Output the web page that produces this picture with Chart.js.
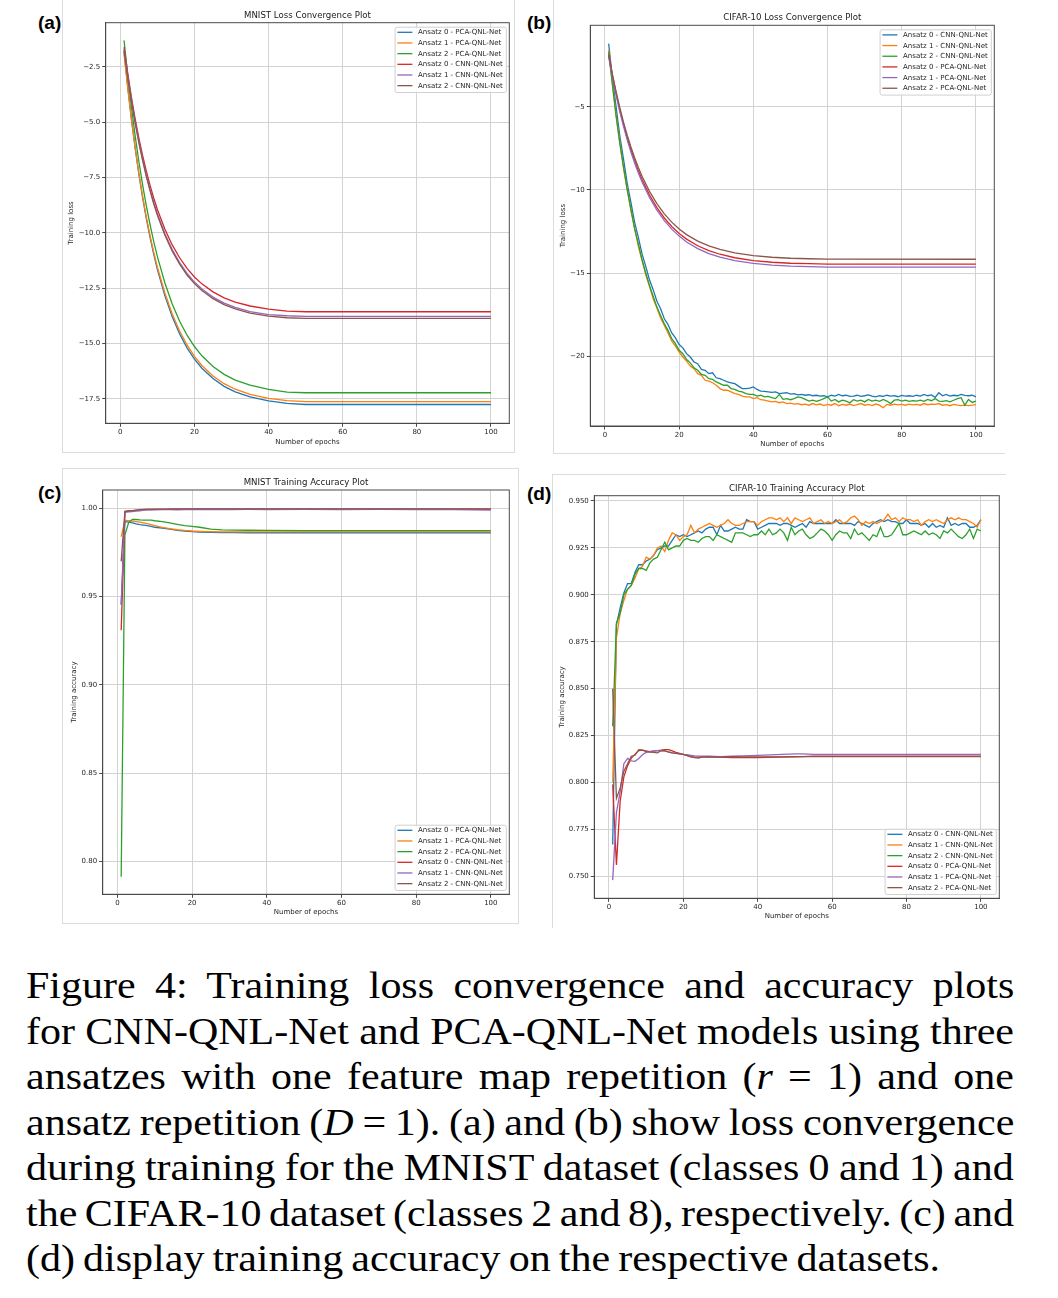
<!DOCTYPE html>
<html>
<head>
<meta charset="utf-8">
<script src="https://cdn.jsdelivr.net/npm/chart.js@4.4.0/dist/chart.umd.min.js"></script>
<style>
  html,body{margin:0;padding:0;background:#fff;}
  body{width:1058px;height:1298px;position:relative;overflow:hidden;}
  .frame{position:absolute;box-sizing:border-box;border:0 solid #dcdcdc;}
  canvas{position:absolute;}
  .lab{position:absolute;font-family:'Liberation Sans',Arial,sans-serif;font-weight:bold;font-size:19px;line-height:19px;color:#000;}
  #cap{position:absolute;left:26px;top:963.45px;transform:scaleX(1.105);transform-origin:0 0;
       font-family:'Liberation Serif','Times New Roman',serif;font-size:38px;line-height:45.45px;color:#000;}
  #cap div{white-space:nowrap;height:45.45px;}
</style>
</head>
<body>
<div class="frame" style="left:62px;top:-1px;width:453px;height:454px;border-left-width:1px;border-right-width:1px;border-bottom-width:1px;"></div>
<div class="frame" style="left:553px;top:-1px;width:452px;height:455px;border-left-width:1px;border-bottom-width:1px;"></div>
<div class="frame" style="left:62px;top:468px;width:457px;height:456px;border-width:1px;"></div>
<div class="frame" style="left:552px;top:474px;width:454px;height:454px;border-left-width:1px;border-top-width:1px;"></div>

<canvas id="cA"></canvas>
<canvas id="cB"></canvas>
<canvas id="cC"></canvas>
<canvas id="cD"></canvas>

<div class="lab" style="left:38px;top:12.9px;">(a)</div>
<div class="lab" style="left:527px;top:12.9px;">(b)</div>
<div class="lab" style="left:38px;top:483.2px;">(c)</div>
<div class="lab" style="left:527px;top:484.2px;">(d)</div>

<div id="cap">
  <div><span class="j">Figure 4: Training loss convergence and accuracy plots</span></div>
  <div><span class="j">for CNN-QNL-Net and PCA-QNL-Net models using three</span></div>
  <div><span class="j">ansatzes with one feature map repetition (<i>r</i> = 1) and one</span></div>
  <div><span class="j">ansatz repetition (<i>D</i> = 1). (a) and (b) show loss convergence</span></div>
  <div><span class="j">during training for the MNIST dataset (classes 0 and 1) and</span></div>
  <div><span class="j">the CIFAR-10 dataset (classes 2 and 8), respectively. (c) and</span></div>
  <div><span class="last">(d) display training accuracy on the respective datasets.</span></div>
</div>

<script>
// ---------------- DATA ----------------
const xTicks = [0, 20, 40, 60, 80, 100];

// (a) MNIST loss
const epochsA = [1,2,3,4,5,6,7,8,9,10,12,14,16,18,20,22,25,28,31,35,40,45,50,100];
const lossA_pca0 = [-1.8,-3.41,-4.86,-6.16,-7.34,-8.39,-9.34,-10.19,-10.96,-11.66,-12.83,-13.79,-14.56,-15.19,-15.70,-16.11,-16.58,-16.93,-17.18,-17.41,-17.59,-17.70,-17.75,-17.75];
const lossA_pca1 = [-1.9,-3.45,-4.88,-6.15,-7.31,-8.34,-9.27,-10.11,-10.87,-11.55,-12.70,-13.66,-14.43,-15.06,-15.58,-15.99,-16.46,-16.81,-17.06,-17.29,-17.47,-17.58,-17.62,-17.62];
const lossA_pca2 = [-1.3,-2.89,-4.32,-5.61,-6.77,-7.82,-8.76,-9.61,-10.38,-11.07,-12.25,-13.21,-13.99,-14.62,-15.13,-15.55,-16.03,-16.39,-16.65,-16.88,-17.07,-17.19,-17.22,-17.22];
const lossA_cnn0 = [-1.6,-2.79,-3.87,-4.84,-5.71,-6.49,-7.20,-7.84,-8.42,-8.94,-9.82,-10.54,-11.12,-11.60,-11.99,-12.30,-12.66,-12.93,-13.12,-13.30,-13.44,-13.53,-13.56,-13.56];
const lossA_cnn1 = [-1.7,-2.91,-4.00,-4.98,-5.86,-6.65,-7.37,-8.02,-8.61,-9.13,-10.02,-10.75,-11.34,-11.83,-12.22,-12.53,-12.90,-13.17,-13.36,-13.55,-13.69,-13.74,-13.77,-13.77];
const lossA_cnn2 = [-1.75,-2.97,-4.06,-5.04,-5.93,-6.72,-7.44,-8.09,-8.68,-9.20,-10.09,-10.82,-11.41,-11.90,-12.29,-12.60,-12.97,-13.24,-13.43,-13.62,-13.76,-13.83,-13.86,-13.86];
const yTicksA = [-17.5,-15,-12.5,-10,-7.5,-5,-2.5];

// (b) CIFAR-10 loss (CNN series: one value per epoch 1..100)
const lossB_cnn0 = [
 -1.20,-3.25,-5.00,-6.75,-8.15,-9.60,-10.75,-11.95,-12.85,-13.85,
 -14.60,-15.40,-16.00,-16.70,-17.15,-17.75,-18.10,-18.60,-18.90,-19.30,
 -19.50,-19.85,-20.05,-20.35,-20.45,-20.80,-20.85,-21.05,-21.00,-21.30,
 -21.35,-21.45,-21.55,-21.60,-21.65,-21.80,-21.95,-21.95,-21.92,-21.85,
 -22.00,-22.10,-22.12,-22.15,-22.18,-22.15,-22.25,-22.22,-22.20,-22.28,
 -22.25,-22.33,-22.30,-22.35,-22.32,-22.38,-22.35,-22.40,-22.38,-22.45,
 -22.35,-22.40,-22.30,-22.38,-22.35,-22.42,-22.40,-22.35,-22.42,-22.38,
 -22.33,-22.40,-22.45,-22.38,-22.42,-22.35,-22.40,-22.37,-22.44,-22.36,
 -22.40,-22.38,-22.42,-22.35,-22.40,-22.30,-22.38,-22.33,-22.48,-22.20,
 -22.38,-22.30,-22.40,-22.35,-22.38,-22.30,-22.36,-22.38,-22.35,-22.45];
const lossB_cnn1 = [
 -1.60,-3.60,-5.50,-7.10,-8.70,-9.95,-11.25,-12.30,-13.40,-14.25,
 -15.10,-15.80,-16.55,-17.10,-17.70,-18.15,-18.60,-19.10,-19.40,-19.75,
 -20.05,-20.30,-20.60,-20.75,-21.05,-21.15,-21.45,-21.50,-21.60,-21.75,
 -21.95,-22.05,-22.05,-22.15,-22.25,-22.30,-22.40,-22.45,-22.45,-22.55,
 -22.50,-22.62,-22.65,-22.70,-22.75,-22.72,-22.80,-22.75,-22.85,-22.82,
 -22.88,-22.85,-22.92,-22.88,-22.95,-22.85,-22.93,-22.88,-22.97,-22.90,
 -22.95,-22.85,-22.98,-22.90,-22.95,-22.88,-22.97,-22.92,-22.85,-22.95,
 -22.90,-22.97,-22.88,-22.95,-23.10,-22.90,-22.95,-22.88,-22.93,-22.90,
 -22.95,-22.88,-22.93,-22.90,-22.95,-22.85,-22.92,-22.88,-22.90,-22.85,
 -22.95,-22.92,-22.98,-22.90,-22.95,-22.98,-22.95,-22.97,-22.95,-22.92];
const lossB_cnn2 = [
 -1.70,-3.65,-5.55,-7.20,-8.60,-10.00,-11.15,-12.35,-13.25,-14.20,
 -15.00,-15.75,-16.40,-17.05,-17.55,-18.05,-18.45,-18.95,-19.25,-19.65,
 -19.85,-20.20,-20.40,-20.70,-20.85,-21.10,-21.15,-21.35,-21.40,-21.55,
 -21.65,-21.75,-21.75,-21.95,-22.00,-22.10,-22.15,-22.25,-22.30,-22.30,
 -22.40,-22.35,-22.45,-22.42,-22.50,-22.55,-22.30,-22.60,-22.55,-22.62,
 -22.55,-22.45,-22.50,-22.60,-22.70,-22.65,-22.72,-22.65,-22.55,-22.45,
 -22.70,-22.60,-22.75,-22.65,-22.70,-22.80,-22.62,-22.70,-22.65,-22.75,
 -22.60,-22.70,-22.65,-22.72,-22.60,-22.70,-22.85,-22.65,-22.62,-22.70,
 -22.65,-22.72,-22.68,-22.70,-22.65,-22.72,-22.60,-22.68,-22.55,-22.70,
 -22.72,-22.68,-22.75,-22.65,-22.55,-22.50,-22.95,-22.60,-22.78,-22.70];
const epochsB = [1,2,3,4,5,6,7,8,9,10,12,14,16,18,20,22,25,28,31,35,40,45,50,55,60,100];
const lossB_pca0 = [-1.9,-3.10,-4.18,-5.17,-6.05,-6.86,-7.59,-8.24,-8.84,-9.38,-10.31,-11.07,-11.69,-12.20,-12.62,-12.96,-13.36,-13.65,-13.87,-14.08,-14.25,-14.35,-14.41,-14.44,-14.46,-14.47];
const lossB_pca1 = [-2.0,-3.21,-4.30,-5.29,-6.18,-6.99,-7.72,-8.38,-8.98,-9.52,-10.46,-11.22,-11.85,-12.36,-12.78,-13.13,-13.53,-13.83,-14.05,-14.26,-14.42,-14.52,-14.59,-14.62,-14.64,-14.65];
const lossB_pca2 = [-1.85,-3.03,-4.09,-5.05,-5.92,-6.71,-7.42,-8.07,-8.65,-9.18,-10.09,-10.83,-11.44,-11.94,-12.35,-12.69,-13.08,-13.37,-13.58,-13.79,-13.95,-14.05,-14.11,-14.14,-14.16,-14.17];
const yTicksB = [-20,-15,-10,-5];

// (c) MNIST accuracy
const epochsC = [1,2,3,4,5,6,7,8,9,10,12,14,16,18,20,22,25,28,31,35,40,50,60,70,80,90,100];
const accC_pca0 = [0.9455,0.9925,0.9922,0.9918,0.9912,0.9908,0.9905,0.9902,0.9898,0.9893,0.9888,0.9882,0.9876,0.9871,0.9868,0.9866,0.9864,0.9863,0.9863,0.9862,0.9862,0.9862,0.9862,0.9862,0.9862,0.9862,0.9862];
const accC_pca1 = [0.984,0.9932,0.9930,0.9928,0.9925,0.9922,0.9918,0.9913,0.9908,0.9902,0.9893,0.9885,0.9879,0.9875,0.9872,0.9870,0.9868,0.9867,0.9867,0.9867,0.9867,0.9867,0.9867,0.9867,0.9867,0.9867,0.9867];
const accC_pca2 = [0.7915,0.985,0.992,0.9938,0.9937,0.9935,0.9934,0.9934,0.9933,0.9930,0.9925,0.9918,0.9910,0.9902,0.9898,0.9893,0.9883,0.9878,0.9877,0.9876,0.9875,0.9874,0.9874,0.9874,0.9874,0.9874,0.9874];
const accC_cnn0 = [0.931,0.9982,0.9985,0.9987,0.9989,0.9991,0.9992,0.9993,0.9993,0.9994,0.9994,0.9995,0.9995,0.9995,0.9996,0.9996,0.9996,0.9996,0.9996,0.9996,0.9996,0.9996,0.9996,0.9996,0.9996,0.9996,0.9996];
const accC_cnn1 = [0.9455,0.9978,0.9980,0.9982,0.9984,0.9986,0.9990,0.9991,0.9992,0.9992,0.9993,0.9993,0.9992,0.9993,0.9993,0.9994,0.9993,0.9994,0.9993,0.9994,0.9993,0.9994,0.9993,0.9994,0.9993,0.9993,0.9990];
const accC_cnn2 = [0.970,0.9983,0.9985,0.9987,0.9990,0.9993,0.9994,0.9995,0.9995,0.9996,0.9996,0.9996,0.9997,0.9997,0.9997,0.9997,0.9997,0.9997,0.9997,0.9997,0.9997,0.9997,0.9997,0.9997,0.9997,0.9997,0.9997];
const yTicksC = [0.80,0.85,0.90,0.95,1.00];

// (d) CIFAR-10 accuracy (CNN series: one value per epoch 1..100)
const accD_cnn0 = [
 0.767,0.884,0.893,0.901,0.906,0.906,0.912,0.916,0.916,0.918,
 0.919,0.921,0.924,0.925,0.926,0.926,0.929,0.932,0.931,0.932,
 0.931,0.932,0.933,0.934,0.933,0.935,0.936,0.936,0.932,0.937,
 0.934,0.934,0.935,0.936,0.935,0.935,0.940,0.939,0.939,0.935,
 0.936,0.937,0.938,0.938,0.938,0.937,0.938,0.938,0.937,0.936,
 0.937,0.938,0.936,0.939,0.938,0.938,0.938,0.938,0.938,0.938,
 0.940,0.938,0.938,0.938,0.938,0.937,0.939,0.938,0.937,0.936,
 0.938,0.939,0.940,0.939,0.940,0.939,0.939,0.938,0.938,0.940,
 0.938,0.938,0.938,0.937,0.938,0.936,0.938,0.936,0.937,0.936,
 0.941,0.937,0.938,0.937,0.938,0.938,0.936,0.936,0.937,0.940];
const accD_cnn1 = [
 0.800,0.877,0.890,0.897,0.903,0.905,0.909,0.914,0.915,0.920,
 0.919,0.921,0.925,0.926,0.923,0.929,0.933,0.932,0.929,0.931,
 0.932,0.937,0.933,0.935,0.936,0.937,0.938,0.937,0.936,0.937,
 0.938,0.940,0.938,0.937,0.937,0.938,0.939,0.939,0.939,0.937,
 0.939,0.940,0.941,0.941,0.940,0.941,0.939,0.941,0.938,0.941,
 0.940,0.939,0.940,0.941,0.938,0.939,0.940,0.938,0.939,0.938,
 0.939,0.940,0.938,0.939,0.941,0.942,0.940,0.937,0.939,0.938,
 0.939,0.938,0.939,0.940,0.943,0.940,0.941,0.939,0.941,0.940,
 0.940,0.939,0.940,0.937,0.939,0.940,0.939,0.940,0.939,0.938,
 0.940,0.941,0.940,0.941,0.940,0.940,0.939,0.938,0.936,0.940];
const accD_cnn2 = [
 0.830,0.885,0.890,0.900,0.903,0.905,0.911,0.914,0.914,0.913,
 0.917,0.919,0.920,0.924,0.928,0.924,0.925,0.926,0.926,0.929,
 0.930,0.929,0.929,0.928,0.930,0.931,0.931,0.929,0.932,0.931,
 0.930,0.929,0.928,0.933,0.933,0.933,0.932,0.931,0.932,0.932,
 0.934,0.932,0.935,0.932,0.933,0.935,0.933,0.929,0.936,0.932,
 0.934,0.935,0.932,0.930,0.931,0.933,0.935,0.934,0.932,0.929,
 0.932,0.934,0.933,0.933,0.930,0.935,0.932,0.933,0.931,0.929,
 0.932,0.931,0.936,0.931,0.931,0.932,0.935,0.938,0.932,0.932,
 0.933,0.934,0.933,0.932,0.934,0.932,0.933,0.932,0.930,0.934,
 0.933,0.935,0.933,0.931,0.930,0.932,0.935,0.930,0.935,0.934];
const epochsD = [1,2,3,4,5,6,7,8,9,10,11,12,13,14,15,16,17,18,19,20,21,22,23,24,25,27,30,33,36,40,45,50,52,55,60,70,80,90,100];
const accD_pca0 = [0.799,0.756,0.790,0.803,0.809,0.813,0.815,0.8170,0.8172,0.8168,0.8165,0.8167,0.8170,0.8172,0.8175,0.8175,0.8168,0.8160,0.8155,0.8150,0.8145,0.8138,0.8135,0.8135,0.8137,0.8137,0.8135,0.8133,0.8132,0.8133,0.8135,0.8137,0.8138,0.8140,0.8140,0.8140,0.8140,0.8140,0.8140];
const accD_pca1 = [0.748,0.784,0.795,0.810,0.8128,0.8115,0.8113,0.8128,0.8148,0.8160,0.8165,0.8168,0.8170,0.8170,0.8168,0.8162,0.8158,0.8155,0.8153,0.8150,0.8148,0.8145,0.8142,0.8140,0.8140,0.8140,0.8138,0.8140,0.8142,0.8145,0.8148,0.8152,0.8153,0.8150,0.8150,0.8150,0.8150,0.8150,0.8150];
const accD_pca2 = [0.850,0.7915,0.797,0.806,0.810,0.814,0.8145,0.8175,0.8173,0.8165,0.8162,0.8160,0.8158,0.8170,0.8168,0.8163,0.8158,0.8155,0.8152,0.8150,0.8143,0.8136,0.8132,0.8130,0.8135,0.8137,0.8135,0.8138,0.8137,0.8137,0.8137,0.8138,0.8138,0.8138,0.8138,0.8138,0.8138,0.8138,0.8138];
const yTicksD = [0.750,0.775,0.800,0.825,0.850,0.875,0.900,0.925,0.950];

const labelsPCAfirst = ['Ansatz 0 - PCA-QNL-Net','Ansatz 1 - PCA-QNL-Net','Ansatz 2 - PCA-QNL-Net','Ansatz 0 - CNN-QNL-Net','Ansatz 1 - CNN-QNL-Net','Ansatz 2 - CNN-QNL-Net'];
const labelsCNNfirst = ['Ansatz 0 - CNN-QNL-Net','Ansatz 1 - CNN-QNL-Net','Ansatz 2 - CNN-QNL-Net','Ansatz 0 - PCA-QNL-Net','Ansatz 1 - PCA-QNL-Net','Ansatz 2 - PCA-QNL-Net'];
const colors = ['#1f77b4','#ff7f0e','#2ca02c','#d62728','#9467bd','#8c564b'];

// ---------------- STYLE ----------------
const FF = "'DejaVu Sans', sans-serif";
const FS = 7;
const TXT = '#262626';
const GRID = '#d3d3d3';
const SPINE = '#4a4a4a';
const X_MIN = -3.95, X_MAX = 104.95;

const pts = (xs, ys) => ys.map((y, i) => ({x: xs[i], y}));
const perEpoch = ys => ys.map((y, i) => ({x: i + 1, y}));
const fmt = (v, d) => v.toFixed(d).replace('-', '\u2212');

const spinePlugin = {
  id: 'spine',
  afterDatasetsDraw(chart) {
    const {ctx, chartArea: a} = chart;
    ctx.save();
    ctx.strokeStyle = SPINE; ctx.lineWidth = 1;
    ctx.strokeRect(a.left, a.top, a.right - a.left, a.bottom - a.top);
    ctx.restore();
  }
};
const titlePlugin = {
  id: 'mplTitle',
  afterDraw(chart, args, opts) {
    const {ctx, chartArea: a} = chart;
    ctx.save();
    ctx.font = "8.6px 'DejaVu Sans'";
    ctx.fillStyle = '#1a1a1a';
    ctx.textAlign = 'center'; ctx.textBaseline = 'middle';
    ctx.fillText(opts.text, (a.left + a.right) / 2, opts.y);
    ctx.restore();
  }
};
const legendPlugin = {
  id: 'mplLegend',
  afterDraw(chart, args, opts) {
    const {ctx, chartArea: a} = chart;
    const ds = chart.data.datasets;
    ctx.save();
    ctx.font = FS + "px 'DejaVu Sans'";
    const rowH = 10.67, handle = 15, pad = 2.8, gap = 5.7;
    const tw = Math.max(...ds.map(d => ctx.measureText(d.label).width));
    const w = pad + handle + gap + tw + 3;
    const h = 65.3;
    const x = a.right - 3.5 - w;
    const y = opts.pos === 'top' ? a.top + 4 : a.bottom - 4.3 - h;
    ctx.beginPath();
    ctx.roundRect(x + 0.5, y + 0.5, w, h, 2);
    ctx.fillStyle = 'rgba(255,255,255,0.85)';
    ctx.fill();
    ctx.strokeStyle = '#d0d0d0'; ctx.lineWidth = 1;
    ctx.stroke();
    ds.forEach((d, i) => {
      const cy = y + 5.6 + i * rowH;
      ctx.beginPath();
      ctx.moveTo(x + pad, cy); ctx.lineTo(x + pad + handle, cy);
      ctx.strokeStyle = d.borderColor; ctx.lineWidth = 1.3; ctx.stroke();
      ctx.fillStyle = TXT; ctx.textAlign = 'left'; ctx.textBaseline = 'middle';
      ctx.fillText(d.label, x + pad + handle + gap, cy + 0.3);
    });
    ctx.restore();
  }
};

function makeDatasets(labels, series) {
  const n = series.length;
  return series.map((s, i) => ({
    label: labels[i], data: s, borderColor: colors[i], backgroundColor: colors[i],
    borderWidth: 1.3, pointRadius: 0, fill: false, tension: 0, order: n - 1 - i
  }));
}

function buildChart(id, g, datasets, yCfg, legendPos, titleText, yLabel) {
  const cv = document.getElementById(id);
  cv.width = g.cw; cv.height = g.ch;
  cv.style.left = g.cx + 'px'; cv.style.top = g.cy + 'px';
  const LH = FS * 1.2;
  const gridOpt = {color: GRID, lineWidth: 1, drawTicks: true, tickLength: 3.5, tickColor: SPINE, tickWidth: 1};
  const borderOpt = {display: true, color: SPINE, width: 1};
  return new Chart(cv, {
    type: 'line',
    data: {datasets},
    options: {
      responsive: false, animation: false, devicePixelRatio: 1, events: [],
      layout: {padding: {left: 0, top: g.pt - g.cy, right: g.cx + g.cw - g.pr, bottom: 0}},
      plugins: {
        legend: {display: false}, tooltip: {enabled: false}, title: {display: false},
        mplTitle: {text: titleText, y: g.titleY - g.cy},
        mplLegend: {pos: legendPos}
      },
      scales: {
        x: {
          type: 'linear', min: X_MIN, max: X_MAX,
          afterBuildTicks: s => { s.ticks = xTicks.map(v => ({value: v})); },
          afterFit: s => { s.height = g.cy + g.ch - g.pb; },
          grid: gridOpt, border: borderOpt,
          ticks: {font: {family: FF, size: FS}, color: TXT, padding: 1.5, maxRotation: 0, autoSkip: false, callback: v => String(v)},
          title: {display: true, text: 'Number of epochs', font: {family: FF, size: FS}, color: TXT,
                  padding: {top: 0, bottom: g.cy + g.ch - g.xlabY - LH / 2}}
        },
        y: {
          type: 'linear', min: yCfg.min, max: yCfg.max,
          afterBuildTicks: s => { s.ticks = yCfg.ticks.map(v => ({value: v})); },
          afterFit: s => { s.width = g.pl - g.cx; },
          grid: gridOpt, border: borderOpt,
          ticks: {font: {family: FF, size: FS}, color: TXT, padding: 2, autoSkip: false, callback: v => fmt(v, yCfg.dec)},
          title: {display: true, text: yLabel, font: {family: FF, size: FS}, color: TXT,
                  padding: {top: g.ylabX - g.cx - LH / 2, bottom: 0}}
        }
      }
    },
    plugins: [spinePlugin, titlePlugin, legendPlugin]
  });
}

// panel geometry (page px)
const geoA = {cx: 63, cy: 0, cw: 452, ch: 453, pl: 105.7, pt: 22.7, pr: 509.3, pb: 423.3, ylabX: 71.5, xlabY: 441.7, titleY: 15.3};
const geoB = {cx: 553, cy: 0, cw: 452, ch: 454, pl: 590.3, pt: 25.3, pr: 994.3, pb: 426, ylabX: 563.3, xlabY: 444, titleY: 17.7};
const geoC = {cx: 62, cy: 468, cw: 456, ch: 455, pl: 102.7, pt: 490, pr: 509.3, pb: 894.3, ylabX: 74.3, xlabY: 912.3, titleY: 482.3};
const geoD = {cx: 552, cy: 474, cw: 453, ch: 453, pl: 594.3, pt: 495.7, pr: 999.3, pb: 898.3, ylabX: 561.7, xlabY: 916, titleY: 488.3};

buildChart('cA', geoA, makeDatasets(labelsPCAfirst, [
  pts(epochsA, lossA_pca0), pts(epochsA, lossA_pca1), pts(epochsA, lossA_pca2),
  pts(epochsA, lossA_cnn0), pts(epochsA, lossA_cnn1), pts(epochsA, lossA_cnn2)]),
  {min: -18.6, max: -0.5, ticks: yTicksA, dec: 1}, 'top', 'MNIST Loss Convergence Plot', 'Training loss');

buildChart('cB', geoB, makeDatasets(labelsCNNfirst, [
  perEpoch(lossB_cnn0), perEpoch(lossB_cnn1), perEpoch(lossB_cnn2),
  pts(epochsB, lossB_pca0), pts(epochsB, lossB_pca1), pts(epochsB, lossB_pca2)]),
  {min: -24.2, max: -0.1, ticks: yTicksB, dec: 0}, 'top', 'CIFAR-10 Loss Convergence Plot', 'Training loss');

buildChart('cC', geoC, makeDatasets(labelsPCAfirst, [
  pts(epochsC, accC_pca0), pts(epochsC, accC_pca1), pts(epochsC, accC_pca2),
  pts(epochsC, accC_cnn0), pts(epochsC, accC_cnn1), pts(epochsC, accC_cnn2)]),
  {min: 0.7815, max: 1.0104, ticks: yTicksC, dec: 2}, 'bottom', 'MNIST Training Accuracy Plot', 'Training accuracy');

buildChart('cD', geoD, makeDatasets(labelsCNNfirst, [
  perEpoch(accD_cnn0), perEpoch(accD_cnn1), perEpoch(accD_cnn2),
  pts(epochsD, accD_pca0), pts(epochsD, accD_pca1), pts(epochsD, accD_pca2)]),
  {min: 0.7383, max: 0.9528, ticks: yTicksD, dec: 3}, 'bottom', 'CIFAR-10 Training Accuracy Plot', 'Training accuracy');

// caption justification
function justifyCaption() {
  const sx = 1.105;
  const target = 988 / sx;
  document.querySelectorAll('#cap span').forEach(sp => {
    sp.style.wordSpacing = '0px';
    const w = sp.offsetWidth;
    const n = (sp.textContent.match(/ /g) || []).length;
    const t = sp.classList.contains('last') ? 914 / sx : target;
    if (n > 0) sp.style.wordSpacing = ((t - w) / n) + 'px';
  });
}
justifyCaption();
if (document.fonts && document.fonts.ready) document.fonts.ready.then(justifyCaption);
</script>
</body>
</html>
